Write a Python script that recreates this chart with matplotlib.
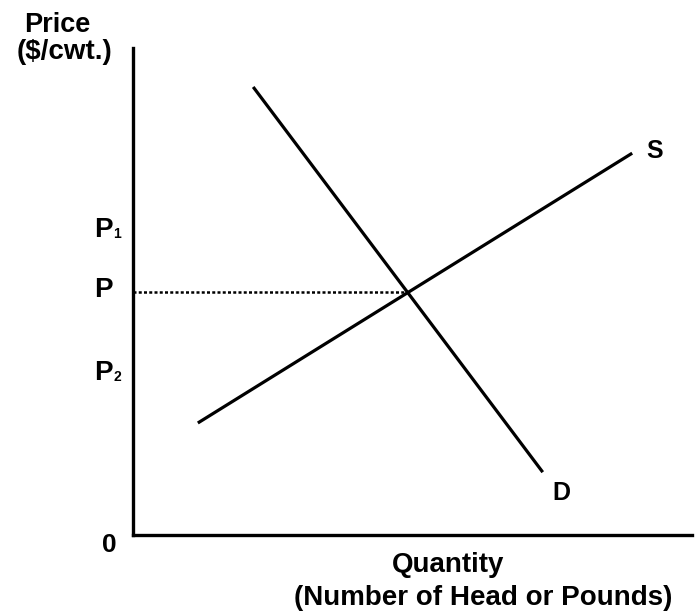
import matplotlib
matplotlib.use("Agg")
import matplotlib.pyplot as plt
from matplotlib.transforms import offset_copy

plt.rcParams['font.family'] = ['Liberation Sans', 'DejaVu Sans']
plt.rcParams['font.weight'] = 'bold'

# data (abstract units)
supply_x = [1.16, 8.93]
supply_y = [2.30, 7.84]
demand_x = [2.15, 7.33]
demand_y = [9.20, 1.29]
eq_x, eq_y = 4.9, 5.0
price_labels = ['P', 'P', 'P']
price_subs = ['1', '', '2']
price_levels = [6.32, 5.09, 3.39]

fig = plt.figure(figsize=(6.98, 6.14), dpi=100)
W, H = 698, 614
left, right, top, bottom = 133, 692, 48, 535
ax = fig.add_axes([left / W, 1 - bottom / H, (right - left) / W, (bottom - top) / H])
ax.set_xlim(0, 10)
ax.set_ylim(0, 10)
for s in ['top', 'right']:
    ax.spines[s].set_visible(False)
for s in ['left', 'bottom']:
    ax.spines[s].set_linewidth(2.4)
ax.set_xticks([])
ax.set_yticks([])

ax.plot(supply_x, supply_y, color='black', lw=2.3, solid_capstyle='butt')
ax.plot(demand_x, demand_y, color='black', lw=2.3, solid_capstyle='butt')
ax.plot([0, eq_x], [eq_y, eq_y], color='black', lw=1.8, linestyle=(0, (1.2, 0.9)))

def px(x, y):
    return x / W, 1 - y / H

fig.text(*px(646, 158), 'S', fontsize=18, fontweight='bold', ha='left', va='baseline')
fig.text(*px(552, 500), 'D', fontsize=18, fontweight='bold', ha='left', va='baseline')

base_tr = offset_copy(ax.transData, fig=fig, x=-20, y=-10, units='dots')
sub_tr = offset_copy(ax.transData, fig=fig, x=-20, y=-11, units='dots')
for lab, sub, lv in zip(price_labels, price_subs, price_levels):
    ax.text(0, lv, lab, fontsize=20, fontweight='bold', ha='right', va='baseline', transform=base_tr)
    if sub:
        ax.text(0, lv, sub, fontsize=10, fontweight='bold', ha='left', va='baseline', transform=sub_tr)

fig.text(*px(117, 552), '0', fontsize=19, fontweight='bold', ha='right', va='baseline')

fig.text(*px(57, 32), 'Price', fontsize=19.5, fontweight='bold', ha='center', va='baseline')
fig.text(*px(64, 59), '($/cwt.)', fontsize=20, fontweight='bold', ha='center', va='baseline')
fig.text(*px(448, 572), 'Quantity', fontsize=20, fontweight='bold', ha='center', va='baseline')
fig.text(*px(483, 605), '(Number of Head or Pounds)', fontsize=20, fontweight='bold',
         ha='center', va='baseline')

fig.savefig('out.png', dpi=100)
